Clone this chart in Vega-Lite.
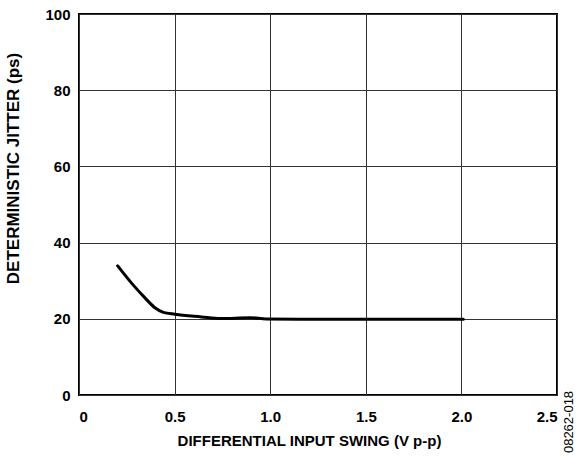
{
  "$schema": "https://vega.github.io/schema/vega-lite/v6.json",
  "width": 478,
  "height": 381,
  "autosize": {"type": "none"},
  "padding": {"left": 79, "top": 14, "right": 30, "bottom": 62},
  "background": "white",
  "config": {
    "font": "Liberation Sans",
    "view": {"stroke": "black", "strokeWidth": 2},
    "axis": {
      "grid": true,
      "gridColor": "#333333",
      "gridWidth": 1,
      "gridOpacity": 1,
      "ticks": false,
      "domain": false,
      "labelFont": "Liberation Sans",
      "labelFontWeight": "bold",
      "labelFontSize": 15,
      "labelColor": "black",
      "titleFont": "Liberation Sans",
      "titleFontWeight": "bold",
      "titleColor": "black"
    }
  },
  "data": {
    "values": [
      {"swing": 0.202, "jitter": 33.9},
      {"swing": 0.276, "jitter": 29.3},
      {"swing": 0.345, "jitter": 25.5},
      {"swing": 0.397, "jitter": 22.9},
      {"swing": 0.441, "jitter": 21.7},
      {"swing": 0.502, "jitter": 21.2},
      {"swing": 0.64, "jitter": 20.5},
      {"swing": 0.74, "jitter": 20.05},
      {"swing": 0.894, "jitter": 20.3},
      {"swing": 0.98, "jitter": 19.95},
      {"swing": 1.156, "jitter": 19.9},
      {"swing": 1.5, "jitter": 19.9},
      {"swing": 1.75, "jitter": 19.9},
      {"swing": 2.01, "jitter": 19.9}
    ]
  },
  "layer": [
    {
      "mark": {"type": "line", "color": "black", "strokeWidth": 3, "interpolate": "monotone", "strokeCap": "round"},
      "encoding": {
        "x": {
          "field": "swing",
          "type": "quantitative",
          "scale": {"domain": [0, 2.5], "nice": false},
          "axis": {
            "values": [0, 0.5, 1, 1.5, 2, 2.5],
            "labelExpr": "datum.value == 0 ? '0' : format(datum.value, '.1f')",
            "labelPadding": 14,
            "title": "DIFFERENTIAL INPUT SWING (V p-p)",
            "titleFontSize": 15,
            "titlePadding": 9,
            "titleX": 230
          }
        },
        "y": {
          "field": "jitter",
          "type": "quantitative",
          "scale": {"domain": [0, 100], "nice": false},
          "axis": {
            "values": [0, 20, 40, 60, 80, 100],
            "labelPadding": 9,
            "title": "DETERMINISTIC JITTER (ps)",
            "titleFontSize": 17,
            "titlePadding": 22,
            "titleY": 154
          }
        }
      }
    },
    {
      "data": {"values": [{"code": "08262-018"}]},
      "mark": {"type": "text", "angle": 270, "fontSize": 13, "font": "Liberation Sans", "color": "black", "align": "center", "baseline": "middle", "dx": -27, "dy": 12},
      "encoding": {
        "text": {"field": "code"},
        "x": {"datum": 2.5},
        "y": {"datum": 0}
      }
    }
  ]
}
